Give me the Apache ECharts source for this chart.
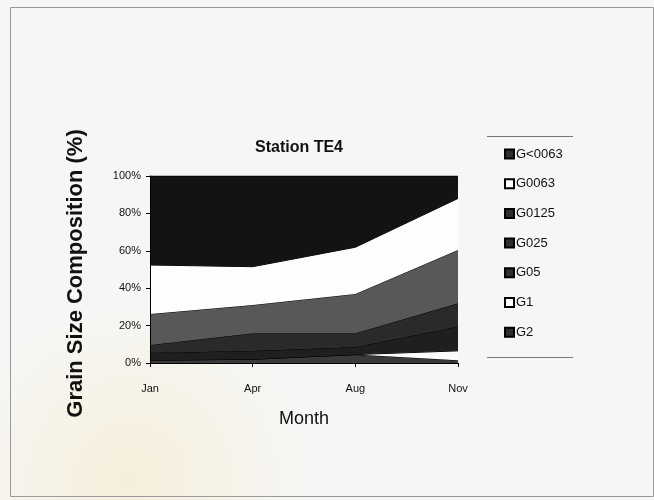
<!DOCTYPE html>
<html>
<head>
<meta charset="utf-8">
<script src="https://cdn.jsdelivr.net/npm/echarts@6/dist/echarts.min.js"></script>
<style>
html,body{margin:0;padding:0;background:#f6f6f4;}
#chart{width:654px;height:500px;}
</style>
</head>
<body>
<div id="chart"></div>
<script>
// Data (percent composition, bottom of stack first)
var months = ['Jan', 'Apr', 'Aug', 'Nov'];
var seriesNames = ['G2', 'G1', 'G05', 'G025', 'G0125', 'G0063', 'G<0063'];
var G2 = [1.5, 2, 4.5, 1.5];
var G1 = [0, 0, 0, 5];
var G05 = [4, 4.5, 4, 13];
var G025 = [4.1, 9.4, 7.4, 12.4];
var G0125 = [16.6, 15.1, 21, 28.5];
var G0063 = [26.2, 20.5, 25, 27.6];
var Gfine = [47.6, 48.5, 38.1, 12];
var yTicks = [0, 20, 40, 60, 80, 100];

var values = [G2, G1, G05, G025, G0125, G0063, Gfine];
var fills = ['#3a3a3a', '#fbfbfb', '#1f1f1f', '#2a2a2a', '#585858', '#fdfdfd', '#131313'];
var legendFills = ['#2e2e2e', '#ffffff', '#2e2e2e', '#2e2e2e', '#2e2e2e', '#ffffff', '#2e2e2e'];

var font = '"Liberation Sans", Arial, sans-serif';

var series = seriesNames.map(function (n, i) {
  return {
    name: n,
    type: 'line',
    stack: 'total',
    data: values[i],
    showSymbol: false,
    symbol: 'none',
    lineStyle: { color: '#000', width: 1 },
    itemStyle: { color: legendFills[i], borderColor: '#000', borderWidth: 1 },
    areaStyle: { color: fills[i], opacity: 1 },
    z: 2 + i
  };
});

var chart = echarts.init(document.getElementById('chart'));
chart.setOption({
  backgroundColor: '#f6f6f4',
  animation: false,
  title: {
    text: 'Station TE4',
    left: 250,
    top: 135,
    textStyle: { fontFamily: font, fontSize: 16, fontWeight: 'bold', color: '#111' }
  },
  graphic: [
    { type: 'circle', shape: { cx: 130, cy: 480, r: 170 }, style: { fill: { type: 'radial', x: 0.5, y: 0.5, r: 0.5, colorStops: [{ offset: 0, color: 'rgba(245,225,170,0.35)' }, { offset: 1, color: 'rgba(245,225,170,0)' }] } }, z: -10, silent: true },
    { type: 'rect', shape: { x: 10.5, y: 7.5, width: 643, height: 489 }, style: { fill: null, stroke: '#9a9a9a', lineWidth: 1 }, silent: true },
    { type: 'line', shape: { x1: 487, y1: 136.5, x2: 573, y2: 136.5 }, style: { stroke: '#777', lineWidth: 1 }, silent: true },
    { type: 'line', shape: { x1: 487, y1: 357.5, x2: 573, y2: 357.5 }, style: { stroke: '#777', lineWidth: 1 }, silent: true }
  ],
  legend: {
    orient: 'vertical',
    left: 499,
    top: 142,
    itemWidth: 9,
    itemHeight: 9,
    itemGap: 15.7,
    icon: 'rect',
    data: seriesNames.slice().reverse(),
    textStyle: { fontFamily: font, fontSize: 13, color: '#111', lineHeight: 14, padding: [0, 0, 0, -3] }
  },
  grid: { left: 150, right: 196, top: 176, bottom: 137, containLabel: false },
  xAxis: {
    type: 'category',
    data: months,
    boundaryGap: false,
    name: 'Month',
    nameLocation: 'middle',
    nameGap: 47,
    nameTextStyle: { fontFamily: font, fontSize: 18, color: '#111' },
    axisLine: { lineStyle: { color: '#000', width: 1 } },
    axisTick: { show: true, length: 4, lineStyle: { color: '#000' } },
    axisLabel: { fontFamily: font, fontSize: 11, color: '#111', margin: 20 },
    splitLine: { show: false },
    z: 20
  },
  yAxis: {
    type: 'value',
    min: yTicks[0],
    max: yTicks[yTicks.length - 1],
    interval: 20,
    name: 'Grain Size Composition (%)',
    nameLocation: 'middle',
    nameRotate: 90,
    nameGap: 63,
    nameTextStyle: { fontFamily: font, fontSize: 22, fontWeight: 'bold', color: '#111', padding: [0, 8, 0, 0] },
    axisLine: { show: true, lineStyle: { color: '#000', width: 1 } },
    axisTick: { show: true, length: 4, lineStyle: { color: '#000' } },
    axisLabel: { fontFamily: font, fontSize: 11, color: '#111', margin: 9, formatter: '{value}%' },
    splitLine: { show: false },
    z: 20
  },
  series: series
});
</script>
</body>
</html>
